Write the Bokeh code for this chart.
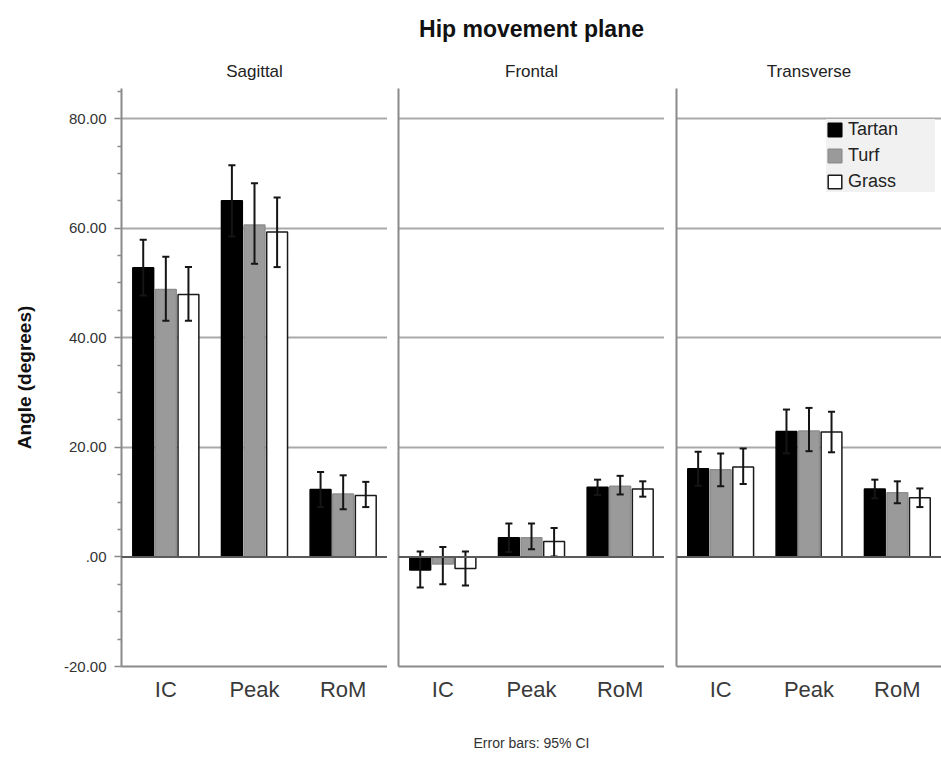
from bokeh.plotting import figure
from bokeh.models import (ColumnDataSource, FactorRange, Range1d, FixedTicker, Title,
                          Legend, LegendItem, Span)
from bokeh.transform import dodge
from bokeh.layouts import row
from bokeh.embed import file_html
from bokeh.resources import INLINE

# ---------------- data ----------------
measures = ["IC", "Peak", "RoM"]
surfaces = ["Tartan", "Turf", "Grass"]
planes = ["Sagittal", "Frontal", "Transverse"]

# Sagittal plane: means and 95% CI bounds
sag_tartan_mean = [52.8, 65.0, 12.3]
sag_tartan_low = [47.7, 58.5, 9.1]
sag_tartan_high = [57.9, 71.5, 15.5]
sag_turf_mean = [48.8, 60.6, 11.5]
sag_turf_low = [43.1, 53.5, 8.7]
sag_turf_high = [54.8, 68.2, 14.9]
sag_grass_mean = [47.9, 59.3, 11.2]
sag_grass_low = [43.1, 52.9, 9.1]
sag_grass_high = [52.9, 65.6, 13.7]

# Frontal plane
fro_tartan_mean = [-2.4, 3.5, 12.7]
fro_tartan_low = [-5.6, 0.9, 11.3]
fro_tartan_high = [1.0, 6.1, 14.1]
fro_turf_mean = [-1.3, 3.5, 12.9]
fro_turf_low = [-5.0, 1.4, 11.4]
fro_turf_high = [1.8, 6.1, 14.8]
fro_grass_mean = [-2.1, 2.8, 12.4]
fro_grass_low = [-5.2, 0.1, 11.0]
fro_grass_high = [1.0, 5.3, 13.8]

# Transverse plane
tra_tartan_mean = [16.1, 22.9, 12.4]
tra_tartan_low = [13.0, 18.9, 10.7]
tra_tartan_high = [19.2, 26.9, 14.1]
tra_turf_mean = [15.9, 23.0, 11.7]
tra_turf_low = [12.9, 19.3, 9.8]
tra_turf_high = [18.9, 27.2, 13.8]
tra_grass_mean = [16.4, 22.8, 10.8]
tra_grass_low = [13.3, 19.1, 9.1]
tra_grass_high = [19.8, 26.5, 12.5]

y_ticks = [-20, 0, 20, 40, 60, 80]
y_tick_labels = ["-20.00", ".00", "20.00", "40.00", "60.00", "80.00"]
y_minor_ticks = [-15, -10, -5, 5, 10, 15, 25, 30, 35, 45, 50, 55, 65, 70, 75, 85]
grid_ticks = [20, 40, 60, 80]

main_title = "Hip movement plane"
y_label = "Angle (degrees)"
footer = "Error bars: 95% CI"

data = {
    "Sagittal": {
        "Tartan": (sag_tartan_mean, sag_tartan_low, sag_tartan_high),
        "Turf": (sag_turf_mean, sag_turf_low, sag_turf_high),
        "Grass": (sag_grass_mean, sag_grass_low, sag_grass_high),
    },
    "Frontal": {
        "Tartan": (fro_tartan_mean, fro_tartan_low, fro_tartan_high),
        "Turf": (fro_turf_mean, fro_turf_low, fro_turf_high),
        "Grass": (fro_grass_mean, fro_grass_low, fro_grass_high),
    },
    "Transverse": {
        "Tartan": (tra_tartan_mean, tra_tartan_low, tra_tartan_high),
        "Turf": (tra_turf_mean, tra_turf_low, tra_turf_high),
        "Grass": (tra_grass_mean, tra_grass_low, tra_grass_high),
    },
}

# ---------------- styling ----------------
FONT = "Liberation Sans"
offsets = [-0.255, 0.0, 0.255]
fills = ["#000000", "#9a9a9a", "#ffffff"]
edges = ["#000000", "#8e8e8e", "#1a1a1a"]
BAR_W = 0.235
CAP = 0.04
AXIS_C = "#8a8a8a"

panel_specs = [
    # plane, width, min_border_left
    ("Sagittal", 387, 121),
    ("Frontal", 277, 11),
    ("Transverse", 277, 12),
]

figs = []
legend_renderers = {}
for i, (plane, w, bl) in enumerate(panel_specs):
    p = figure(x_range=FactorRange(*measures), y_range=Range1d(-20, 85.5),
               width=w, height=758, output_backend="svg", toolbar_location=None,
               min_border_left=bl, min_border_right=0, min_border_top=88,
               min_border_bottom=92, title=None)
    p.outline_line_color = None
    p.background_fill_color = "white"
    p.border_fill_color = "white"

    # grid
    p.xgrid.visible = False
    p.ygrid.ticker = FixedTicker(ticks=grid_ticks)
    p.ygrid.grid_line_color = "#a9a9a9"
    p.ygrid.grid_line_width = 2

    # x axis
    p.xaxis.axis_line_color = AXIS_C
    p.xaxis.axis_line_width = 2
    p.xaxis.major_tick_out = 0
    p.xaxis.major_tick_in = 0
    p.xaxis.major_label_text_font = FONT
    p.xaxis.major_label_text_font_size = "22px"
    p.xaxis.major_label_text_color = "#3a3a3a"
    p.xaxis.major_label_standoff = 10
    if i == 1:
        p.xaxis.axis_label = footer
        p.xaxis.axis_label_text_font = FONT
        p.xaxis.axis_label_text_font_size = "14px"
        p.xaxis.axis_label_text_font_style = "normal"
        p.xaxis.axis_label_text_color = "#333333"
        p.xaxis.axis_label_standoff = 30

    # y axis
    p.yaxis.axis_line_color = AXIS_C
    p.yaxis.axis_line_width = 2
    if i == 0:
        p.yaxis.ticker = FixedTicker(ticks=y_ticks, minor_ticks=y_minor_ticks)
        p.yaxis.major_label_overrides = dict(zip(y_ticks, y_tick_labels))
        p.yaxis.major_tick_out = 7
        p.yaxis.major_tick_in = 0
        p.yaxis.minor_tick_out = 4
        p.yaxis.minor_tick_in = 0
        p.yaxis.major_tick_line_color = AXIS_C
        p.yaxis.minor_tick_line_color = AXIS_C
        p.yaxis.major_tick_line_width = 1.5
        p.yaxis.minor_tick_line_width = 1.5
        p.yaxis.major_label_text_font = FONT
        p.yaxis.major_label_text_font_size = "15px"
        p.yaxis.major_label_text_color = "#333333"
        p.yaxis.major_label_standoff = 8
        p.yaxis.axis_label = y_label
        p.yaxis.axis_label_text_font = FONT
        p.yaxis.axis_label_text_font_size = "19px"
        p.yaxis.axis_label_text_font_style = "bold"
        p.yaxis.axis_label_text_color = "#111111"
        p.yaxis.axis_label_standoff = 26
    else:
        p.yaxis.ticker = FixedTicker(ticks=[])
        p.yaxis.major_tick_out = 0
        p.yaxis.major_tick_in = 0
        p.yaxis.minor_tick_out = 0
        p.yaxis.minor_tick_in = 0
        p.yaxis.major_label_standoff = 0
        p.yaxis.major_label_text_font_size = "0px"

    # bars + error bars
    for s, off, fc, ec in zip(surfaces, offsets, fills, edges):
        mean, low, high = data[plane][s]
        src = ColumnDataSource(dict(measure=measures, mean=mean, low=low, high=high))
        r = p.vbar(x=dodge("measure", off, range=p.x_range), top="mean", bottom=0,
                   width=BAR_W, source=src, fill_color=fc, line_color=ec, line_width=1.5)
        legend_renderers.setdefault(plane, []).append((s, r))
        p.segment(x0=dodge("measure", off, range=p.x_range), y0="low",
                  x1=dodge("measure", off, range=p.x_range), y1="high",
                  source=src, line_color="#151515", line_width=2)
        for col in ("low", "high"):
            p.segment(x0=dodge("measure", off - CAP, range=p.x_range), y0=col,
                      x1=dodge("measure", off + CAP, range=p.x_range), y1=col,
                      source=src, line_color="#151515", line_width=2)

    # zero line
    p.add_layout(Span(location=0, dimension="width", line_color="#5a5a5a", line_width=2))

    # panel title
    p.add_layout(Title(text=plane, align="center", text_font=FONT, text_font_size="17px",
                       text_font_style="normal", text_color="#222222", standoff=15), "above")
    if i == 1:
        p.add_layout(Title(text=main_title, align="center", text_font=FONT,
                           text_font_size="23px", text_font_style="bold",
                           text_color="#111111", standoff=21), "above")
    figs.append(p)

# legend on the transverse panel
p3 = figs[2]
items = [LegendItem(label=s, renderers=[r]) for s, r in legend_renderers["Transverse"]]
legend = Legend(items=items, location=(150, 474), orientation="vertical",
                glyph_width=17, glyph_height=17, label_height=20, label_width=87,
                label_standoff=5, spacing=5, padding=3, margin=0,
                label_text_font=FONT, label_text_font_size="18px",
                label_text_color="#222222",
                background_fill_color="#f1f1f1", background_fill_alpha=1.0,
                border_line_color=None)
p3.add_layout(legend)

layout = row(*figs, spacing=0)
open("out.html", "w").write(file_html(layout, INLINE))
